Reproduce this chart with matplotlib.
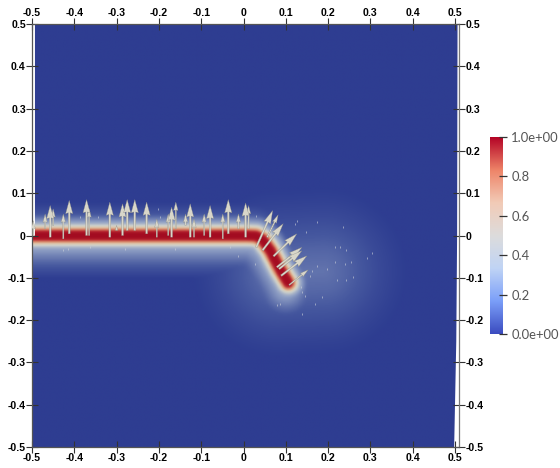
import numpy as np
import matplotlib
matplotlib.use('Agg')
import matplotlib.pyplot as plt
from matplotlib.colors import LinearSegmentedColormap
from matplotlib.patches import Polygon

# Centre line of the red band
band_x = [-0.52, -0.15, 0.008, 0.03, 0.045, 0.063, 0.086, 0.106]
band_y = [0.0, 0.0, 0.0, -0.001, -0.01, -0.035, -0.079, -0.112]
band_dist = [0.0, 0.011, 0.015, 0.019, 0.025, 0.032, 0.042, 0.058]
band_val = [1.0, 0.97, 0.72, 0.55, 0.42, 0.3, 0.18, 0.0]

# Softer fade that sits a little below and left of the band
fade_x = [-0.52, 0.02, 0.05, 0.1]
fade_y = [-0.012, -0.012, -0.035, -0.125]
fade_dist = [0.0, 0.025, 0.045, 0.065, 0.09]
fade_val = [0.36, 0.28, 0.17, 0.08, 0.0]

# Pale glow round the tip of the band
glow_x = [0.08, 0.19]
glow_y = [-0.09, -0.085]
glow_dist = [0.0, 0.05, 0.09, 0.13, 0.17, 0.2]
glow_val = [0.18, 0.14, 0.095, 0.05, 0.018, 0.0]

# Deformed outline of the domain
domain_x = [-0.493, 0.506, 0.505, 0.503, 0.498, -0.5, -0.5, -0.493]
domain_y = [0.5, 0.5, 0.0, -0.25, -0.5, -0.5, -0.003, 0.0]

# Arrows: tail x, tail y, dx, dy
arrow_x = [-0.457, -0.450, -0.412, -0.371, -0.365, -0.316, -0.286, -0.275, -0.257, -0.229,
           -0.205, -0.170, -0.160, -0.126, -0.117, -0.426, -0.469, -0.497, -0.300, -0.178,
           -0.137, -0.079, -0.093, -0.049, -0.036, 0.005, 0.012, -0.012,
           0.056, 0.030, 0.045, 0.071, 0.079, 0.084, 0.089, 0.108]
arrow_y = [-0.004, 0.024, 0.004, 0.0, 0.0, -0.004, 0.0, 0.012, 0.012, 0.004,
           -0.004, -0.004, 0.016, -0.004, -0.004, -0.008, 0.016, 0.0, 0.012, 0.0,
           0.024, -0.004, 0.0, -0.008, 0.004, -0.004, 0.016, 0.016,
           -0.004, -0.028, -0.035, -0.049, -0.075, -0.079, -0.095, -0.117]
arrow_u = [0.0] * 28 + [0.026, 0.039, 0.049, 0.055, 0.059, 0.054, 0.061, 0.045]
arrow_v = [0.075, 0.039, 0.079, 0.085, 0.063, 0.083, 0.075, 0.073, 0.073, 0.075,
           0.043, 0.071, 0.063, 0.079, 0.043, 0.059, 0.035, 0.035, 0.012, 0.051,
           0.027, 0.075, 0.051, 0.059, 0.081, 0.081, 0.055, 0.035,
           0.053, 0.087, 0.063, 0.053, 0.047, 0.043, 0.047, 0.036]

# Tiny arrows that only show as specks
speck_x = [0.173, 0.236, 0.216, 0.228, 0.242, 0.303, 0.291, 0.216, 0.253, 0.240, 0.197,
           0.258, 0.242, 0.220, 0.173, 0.161, 0.157, 0.135, 0.146, 0.138, 0.086, 0.079,
           0.169, 0.185, 0.138, 0.126, 0.148, 0.122, -0.032, -0.012, 0.027, 0.030,
           -0.414, -0.363, -0.426, -0.280, -0.162, -0.387, -0.345, -0.201, -0.197]
speck_y = [0.032, 0.020, -0.028, -0.028, -0.035, -0.041, -0.054, -0.063, -0.063, -0.067, -0.079,
           -0.099, -0.106, -0.106, -0.072, -0.083, -0.095, -0.122, -0.142, -0.134, -0.162, -0.165,
           -0.162, -0.146, -0.185, 0.035, 0.008, 0.028, -0.028, -0.049, -0.067, 0.047,
           -0.032, -0.028, -0.035, -0.032, -0.032, 0.043, 0.043, 0.063, 0.043]

ticks = [-0.5, -0.4, -0.3, -0.2, -0.1, 0, 0.1, 0.2, 0.3, 0.4, 0.5]
tick_labels = ['-0.5', '-0.4', '-0.3', '-0.2', '-0.1', '0', '0.1', '0.2', '0.3', '0.4', '0.5']

cbar_ticks = [0.0, 0.2, 0.4, 0.6, 0.8, 1.0]
cbar_labels = ['0.0e+00', '0.2', '0.4', '0.6', '0.8', '1.0e+00']

field_colors = ['#2e3d91', '#46589f', '#8f9fc4', '#c9cdcb', '#dccdb4', '#d98a6a', '#b5242f', '#a10a20']
field_stops = [0.0, 0.1, 0.3, 0.45, 0.55, 0.75, 0.93, 1.0]
cbar_colors = ['#3b4cc0', '#7b9ff9', '#c0d4f5', '#dddcdc', '#f2cbb7', '#ee8468', '#b40426']


def dist_to_path(px, py, xs, ys):
    out = np.full(px.shape, np.inf)
    for i in range(len(xs) - 1):
        ax0, ay0 = xs[i], ys[i]
        dx, dy = xs[i + 1] - ax0, ys[i + 1] - ay0
        t = ((px - ax0) * dx + (py - ay0) * dy) / (dx * dx + dy * dy)
        t = np.clip(t, 0, 1)
        out = np.minimum(out, np.hypot(px - ax0 - t * dx, py - ay0 - t * dy))
    return out


def soften(img, size=5):
    # small blur, the reference is a resampled screenshot
    kernel = np.hanning(size + 2)[1:-1]
    kernel = kernel / kernel.sum()
    img = np.pad(img, size, mode='edge')
    img = np.apply_along_axis(lambda r: np.convolve(r, kernel, mode='same'), 0, img)
    img = np.apply_along_axis(lambda r: np.convolve(r, kernel, mode='same'), 1, img)
    return img[size:-size, size:-size]


fig = plt.figure(figsize=(5.6, 4.68), dpi=100)
ax = fig.add_axes([32 / 560, 21 / 468, 427 / 560, 423 / 468])

gx, gy = np.meshgrid(np.linspace(-0.52, 0.52, 500), np.linspace(-0.52, 0.52, 500))
band = np.interp(dist_to_path(gx, gy, band_x, band_y), band_dist, band_val)
fade = np.interp(dist_to_path(gx, gy, fade_x, fade_y), fade_dist, fade_val)
glow = np.interp(dist_to_path(gx, gy, glow_x, glow_y), glow_dist, glow_val)
field = soften(np.maximum(np.maximum(band, fade), glow), size=9)

cmap = LinearSegmentedColormap.from_list('field', list(zip(field_stops, field_colors)))
im = ax.imshow(field, origin='lower', extent=[-0.52, 0.52, -0.52, 0.52], cmap=cmap,
               vmin=0, vmax=1, interpolation='bilinear', aspect='auto')
im.set_clip_path(Polygon(np.column_stack([domain_x, domain_y]), transform=ax.transData))

ax.scatter(speck_x, speck_y, s=3, marker='|', linewidths=0.7, color='#cfd3da', alpha=0.6, zorder=3)

# Long arrows have bigger heads than short ones
arrow_x = np.array(arrow_x)
arrow_y = np.array(arrow_y)
arrow_u = np.array(arrow_u)
arrow_v = np.array(arrow_v)
long_arrow = np.hypot(arrow_u, arrow_v) >= 0.065
ax.quiver(arrow_x[~long_arrow], arrow_y[~long_arrow], arrow_u[~long_arrow], arrow_v[~long_arrow],
          angles='xy', scale_units='xy', scale=1, units='dots', width=1.3, headwidth=3.4,
          headlength=6.5, headaxislength=6, minlength=0, color='#d8d6ca', edgecolor='#85857a',
          linewidth=0.2, zorder=4)
ax.quiver(arrow_x[long_arrow], arrow_y[long_arrow], arrow_u[long_arrow], arrow_v[long_arrow],
          angles='xy', scale_units='xy', scale=1, units='dots', width=1.9, headwidth=3.8,
          headlength=7, headaxislength=6.5, minlength=0, color='#d8d6ca', edgecolor='#85857a',
          linewidth=0.2, zorder=4)

ax.set_xlim(-0.5, 427 / 423 - 0.5)
ax.set_ylim(-0.5, 0.5)
for side in ax.spines:
    ax.spines[side].set_color('#555555')
    ax.spines[side].set_linewidth(0.9)
ax.spines['right'].set_color('#777777')

ax.set_xticks(ticks)
ax.set_xticklabels(tick_labels)
ax.set_yticks(ticks)
ax.set_yticklabels(tick_labels)
ax.tick_params(direction='inout', length=8, width=0.8, color='#333333', top=True, right=True,
               labeltop=True, labelright=True, pad=0.5, labelsize=7.6, labelcolor='black')
for lab in ax.get_xticklabels() + ax.get_yticklabels():
    lab.set_fontfamily('Liberation Sans')
    lab.set_fontweight('bold')

# Colour bar
cax = fig.add_axes([490 / 560, (468 - 334) / 468, 13 / 560, 197 / 468])
grad = np.linspace(0, 1, 256).reshape(-1, 1)
cbar_cmap = LinearSegmentedColormap.from_list('bar', cbar_colors)
cax.imshow(grad, origin='lower', extent=[0, 1, 0, 1], cmap=cbar_cmap, aspect='auto')
cax.set_xticks([])
cax.yaxis.tick_right()
cax.set_yticks(cbar_ticks)
cax.set_yticklabels(cbar_labels, fontfamily='Lato', fontsize=9.4, color='#555555')
cax.tick_params(direction='inout', length=6, width=0.9, color='#333333', pad=3)
for side in cax.spines:
    cax.spines[side].set_visible(False)

plt.savefig('out.png', dpi=100)
